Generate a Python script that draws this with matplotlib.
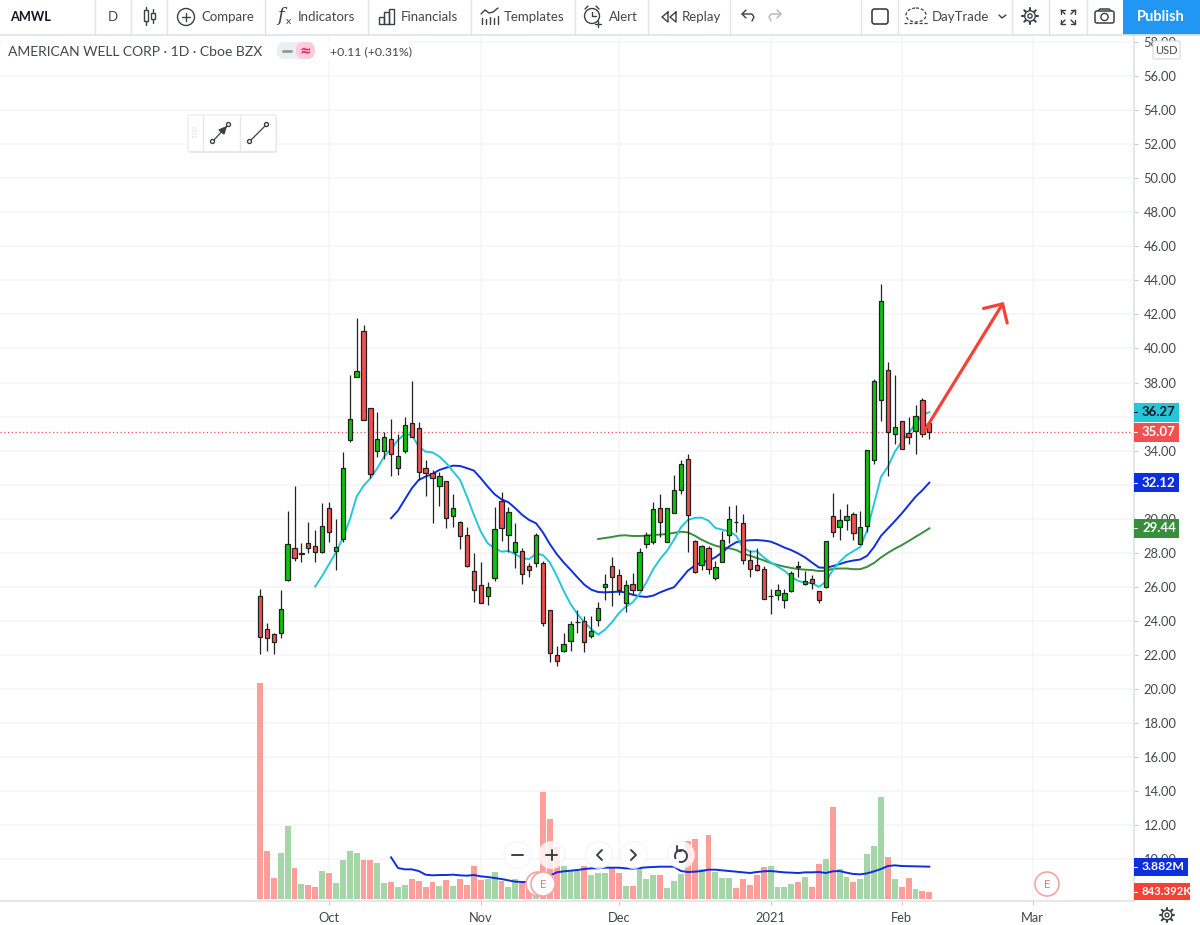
import matplotlib
matplotlib.use("Agg")
import matplotlib.pyplot as plt
from matplotlib.patches import Circle, FancyBboxPatch, Rectangle, Arc, Ellipse
import numpy as np

plt.rcParams["font.family"] = ["Lato", "DejaVu Sans"]

# daily bars, AMWL
opens = [25.47, 23.51, 23.24, 23.28, 26.41, 28.27, 27.95, 28.6, 28.42, 28.07,
         30.62, 28.09, 28.8, 34.63, 38.35, 41.01, 36.53, 34.0, 34.0, 34.67,
         33.0, 33.98, 35.63, 35.35, 32.97, 32.67, 31.95, 32.22, 30.15, 29.83,
         29.03, 26.96, 26.13, 25.47, 26.51, 31.07, 29.05, 28.07, 28.13, 27.21,
         27.43, 27.4, 24.66, 22.0, 22.26, 22.84, 23.92, 24.02, 23.1, 24.06,
         26.0, 27.25, 26.7, 25.07, 26.15, 25.84, 28.54, 28.62, 30.62, 28.66,
         30.32, 31.67, 33.51, 28.72, 27.3, 28.27, 26.5, 27.48, 29.05, 29.83,
         29.77, 27.58, 27.27, 27.05, 25.46, 25.54, 25.26, 25.77, 27.2, 26.16,
         26.46, 25.73, 26.0, 30.19, 29.53, 29.92, 30.31, 28.53, 29.59, 33.48,
         36.97, 38.71, 35.0, 35.77, 35.05, 35.17, 36.95, 35.6]
highs = [25.86, 23.86, 23.28, 25.82, 30.46, 31.93, 28.56, 29.83, 29.34, 30.91,
         31.01, 29.97, 33.9, 38.45, 41.77, 41.36, 36.53, 36.25, 35.12, 35.86,
         34.96, 36.0, 38.11, 35.7, 33.45, 32.87, 32.73, 32.22, 31.46, 29.89,
         29.5, 27.97, 27.48, 26.31, 30.68, 31.56, 30.71, 29.74, 28.27, 27.39,
         29.15, 27.54, 24.66, 22.51, 23.3, 23.98, 24.66, 24.3, 24.27, 25.09,
         26.76, 27.78, 27.05, 26.43, 26.82, 28.27, 29.2, 31.0, 31.46, 30.65,
         32.57, 33.47, 33.8, 28.77, 28.46, 28.38, 27.54, 29.28, 30.73, 30.81,
         30.28, 28.17, 28.27, 27.25, 25.85, 26.17, 25.85, 26.95, 27.53, 26.95,
         26.69, 25.73, 28.69, 31.54, 30.6, 30.84, 30.41, 30.45, 34.01, 38.2,
         43.76, 39.22, 38.43, 35.77, 35.95, 36.71, 37.12, 35.6]
lows = [22.04, 22.26, 22.04, 22.98, 26.35, 27.54, 27.48, 28.01, 27.48, 27.97,
        28.66, 27.0, 28.66, 34.49, 38.35, 35.8, 32.38, 33.65, 33.49, 32.54,
        32.57, 33.88, 34.83, 32.28, 31.36, 29.74, 30.75, 29.48, 29.54, 28.25,
        27.19, 25.14, 25.04, 24.94, 26.37, 28.72, 28.07, 27.09, 26.17, 26.57,
        27.19, 23.69, 21.61, 21.38, 22.16, 22.22, 23.3, 22.16, 22.98, 23.69,
        25.23, 24.9, 25.53, 24.51, 25.58, 25.84, 28.3, 28.54, 28.91, 28.66,
        30.32, 31.44, 28.07, 26.82, 27.01, 26.76, 26.41, 27.48, 28.58, 29.2,
        27.35, 26.56, 26.95, 25.28, 24.38, 25.23, 24.79, 25.68, 26.59, 26.1,
        25.85, 25.07, 25.96, 28.94, 28.75, 29.33, 28.75, 28.53, 29.23, 33.19,
        35.75, 32.52, 34.38, 34.07, 34.42, 33.78, 34.81, 34.66]
closes = [23.04, 23.0, 22.79, 24.69, 28.5, 27.68, 27.97, 28.31, 28.07, 29.6,
          29.21, 28.37, 33.0, 35.84, 38.7, 35.8, 32.61, 34.67, 34.79, 33.79,
          33.67, 35.51, 34.83, 32.77, 32.67, 32.38, 32.5, 30.03, 30.66, 28.97,
          27.23, 25.8, 25.08, 25.98, 29.38, 29.48, 30.38, 28.66, 26.74, 26.98,
          29.03, 23.86, 22.1, 21.67, 22.63, 23.8, 23.94, 22.78, 23.39, 24.74,
          26.15, 26.56, 25.84, 26.13, 25.82, 28.03, 29.03, 30.56, 29.83, 30.65,
          31.67, 33.24, 30.24, 26.9, 28.38, 27.05, 27.19, 28.75, 29.99, 29.81,
          27.58, 27.03, 26.99, 25.3, 25.48, 25.8, 25.67, 26.79, 27.18, 26.34,
          26.2, 25.22, 28.69, 29.23, 29.92, 30.19, 29.14, 29.49, 34.01, 38.08,
          42.78, 35.07, 35.4, 34.07, 34.81, 36.01, 34.95, 35.07]
# volume in millions
volumes = [25.9, 5.72, 2.52, 5.52, 8.8, 3.76, 1.84, 1.72, 1.48, 3.4,
           3.08, 1.96, 4.72, 5.72, 5.48, 4.72, 4.72, 4.36, 1.96, 2.08,
           1.48, 1.72, 2.44, 2.2, 1.4, 2.08, 1.6, 2.32, 1.6, 2.44,
           1.72, 4.0, 2.32, 2.44, 3.2, 2.2, 1.48, 2.44, 1.92, 1.72,
           1.2, 12.8, 9.6, 6.24, 4.0, 3.32, 3.4, 4.0, 2.84, 3.08,
           3.08, 3.72, 3.08, 1.6, 1.6, 3.68, 2.4, 2.84, 2.88, 1.36,
           2.2, 2.96, 7.0, 7.2, 3.64, 7.68, 3.2, 2.52, 2.52, 1.36,
           2.4, 1.72, 2.84, 3.88, 4.0, 1.48, 1.48, 1.84, 2.08, 2.64,
           1.48, 4.24, 4.8, 11.08, 3.64, 2.64, 2.08, 2.4, 5.36, 6.4,
           12.24, 5.04, 2.4, 1.48, 2.52, 1.24, 0.92, 0.843392]

# moving averages, each one ends on the last bar
ma_fast = [26.02, 26.64, 27.33, 28.03, 28.86, 29.93, 31.3, 31.93, 32.38, 32.97,
           33.65, 34.1, 34.63, 34.98, 34.92, 34.24, 33.94, 33.9, 33.65, 33.26,
           32.77, 32.28, 31.3, 30.23, 29.25, 28.56, 28.27, 28.07, 28.11, 27.92,
           27.69, 27.63, 27.95, 27.87, 27.44, 26.66, 25.78, 25.0, 24.41, 23.92,
           23.53, 23.2, 23.49, 23.92, 24.45, 24.84, 25.09, 25.58, 26.27, 27.05,
           27.64, 28.13, 28.77, 29.5, 29.93, 30.05, 30.07, 29.89, 29.46, 29.36,
           29.26, 29.01, 28.32, 28.07, 28.09, 27.74, 27.44, 27.2, 26.95, 26.58,
           26.35, 26.25, 26.22, 26.0, 26.3, 26.98, 27.47, 27.86, 28.1, 28.35,
           29.33, 30.9, 32.46, 33.05, 33.93, 34.52, 35.0, 35.6, 36.09, 36.27]
ma_mid = [30.03, 30.48, 31.14, 31.79, 32.28, 32.48, 32.63, 32.87, 33.0, 33.12,
          33.1, 32.97, 32.83, 32.38, 31.89, 31.44, 31.14, 30.97, 30.62, 30.23,
          29.93, 29.74, 29.2, 28.52, 27.93, 27.44, 27.01, 26.56, 26.13, 25.84,
          25.7, 25.68, 25.7, 25.72, 25.68, 25.54, 25.45, 25.41, 25.49, 25.68,
          25.84, 25.98, 26.46, 26.95, 27.25, 27.44, 27.54, 27.74, 28.03, 28.38,
          28.62, 28.7, 28.74, 28.75, 28.72, 28.66, 28.5, 28.31, 28.16, 27.96,
          27.73, 27.43, 27.14, 27.12, 27.22, 27.34, 27.47, 27.55, 27.61, 27.83,
          28.35, 29.0, 29.43, 29.86, 30.31, 30.8, 31.29, 31.68, 32.12]
ma_slow = [28.81, 28.87, 28.93, 29.01, 29.03, 28.99, 28.99, 29.01, 29.05, 29.07,
           29.11, 29.17, 29.24, 29.2, 29.01, 28.77, 28.58, 28.42, 28.32, 28.27,
           28.17, 27.97, 27.83, 27.7, 27.56, 27.4, 27.29, 27.19, 27.11, 27.05,
           27.01, 26.99, 26.93, 26.95, 27.06, 27.08, 27.08, 27.04, 27.04, 27.18,
           27.41, 27.73, 28.0, 28.24, 28.45, 28.69, 28.94, 29.18, 29.44]
ma_volume = [5.0, 3.72, 3.56, 3.56, 3.36, 2.92, 2.84, 2.88, 2.88, 2.92,
             2.84, 2.8, 2.88, 2.72, 2.64, 2.52, 2.4, 2.24, 2.08, 2.04,
             2.04, 2.08, 2.32, 2.8, 3.2, 3.32, 3.4, 3.48, 3.6, 3.68,
             3.68, 3.76, 3.76, 3.76, 3.68, 3.64, 3.72, 3.8, 3.84, 3.88,
             3.88, 3.88, 3.36, 3.24, 3.28, 3.36, 3.52, 3.52, 3.44, 3.36,
             3.28, 3.2, 3.12, 3.24, 3.32, 3.36, 3.28, 3.2, 3.16, 3.12,
             3.2, 3.2, 3.24, 3.12, 3.32, 3.36, 3.16, 3.0, 2.96, 3.08,
             3.32, 3.6, 3.96, 4.04, 3.96, 3.94, 3.92, 3.9, 3.882]

month_pos = [10, 32, 52, 74, 93, 112]
month_labels = ["Oct", "Nov", "Dec", "2021", "Feb", "Mar"]
price_ticks = np.arange(10, 60, 2)
hidden_ticks = [32, 36]  # sit fully under the value tags
arrow_from = (96.1, 35.04)
arrow_to = (107.8, 42.73)

RED = "#f25050"
GREEN = "#0cc40c"
VOL_RED = "#fc9f9a"
VOL_GREEN = "#a5d6a7"
CYAN = "#26c6da"
BLUE = "#0d2fdc"
DGREEN = "#388e3c"
GRID = "#f5f6fa"
TEXT = "#434651"
ICON = "#3c3f4a"

W, H = 1200, 925
fig = plt.figure(figsize=(W / 100, H / 100), dpi=100)

# pixel box of the chart pane
left, right, top, bottom = 0, 1134, 35, 901
ax = fig.add_axes([left / W, 1 - bottom / H, (right - left) / W, (bottom - top) / H])
px_per_price = 17.03
bar_step = 6.9
ax.set_ylim(56 - (bottom - 76) / px_per_price, 56 + (76 - top) / px_per_price)
ax.set_xlim((left - 260) / bar_step, (right - 260) / bar_step)

x = np.arange(len(closes))
o, h, l, c = map(np.array, (opens, highs, lows, closes))
up = c >= o

ax.grid(True, color=GRID, lw=1.2)
ax.set_axisbelow(True)
ax.set_yticks(price_ticks)
ax.set_yticklabels(["" if p in hidden_ticks else f"{p:.2f}" for p in price_ticks], fontsize=9.3, color=TEXT)
ax.set_xticks(month_pos)
ax.set_xticklabels(month_labels, fontsize=9.3, color=TEXT)
ax.tick_params(axis="y", length=3, width=0.8, color="#c8cad2", pad=4)
ax.tick_params(axis="x", length=3, width=0.8, color="#c8cad2", pad=5)
for s in ["top", "left"]:
    ax.spines[s].set_visible(False)
for s in ["right", "bottom"]:
    ax.spines[s].set_color("#e0e3eb")
    ax.spines[s].set_linewidth(1.2)

ax.axhline(closes[-1], color="#f25050", lw=0.9, ls=(0, (1, 2)), zorder=1)

ax.plot(np.arange(len(x) - len(ma_slow), len(x)), ma_slow, color=DGREEN, lw=1.4, zorder=2)
ax.plot(np.arange(len(x) - len(ma_mid), len(x)), ma_mid, color=BLUE, lw=1.4, zorder=2)
ax.plot(np.arange(len(x) - len(ma_fast), len(x)), ma_fast, color=CYAN, lw=1.4, zorder=2)

ax.vlines(x, l, h, color="#222222", lw=0.9, zorder=3)
ax.bar(x[up], (c - o)[up], bottom=o[up], width=0.62, color=GREEN, edgecolor="#222222", lw=0.9, zorder=4)
ax.bar(x[~up], (o - c)[~up], bottom=c[~up], width=0.62, color=RED, edgecolor="#222222", lw=0.9, zorder=4)

ax.annotate("", xy=arrow_to, xytext=arrow_from, zorder=6,
            arrowprops=dict(arrowstyle="->,head_length=1.0,head_width=1.0", mutation_scale=10,
                            color="#f44336", lw=2.3, shrinkA=0, shrinkB=0))

# volume pane shares the same box, own scale
vol = ax.twinx()
ax.yaxis.tick_right()
px_per_m = 8.33
vol.set_ylim(-(bottom - 899) / px_per_m, (899 - top) / px_per_m)
vol.set_yticks([])
for s in vol.spines.values():
    s.set_visible(False)
vol_colors = [VOL_GREEN if u else VOL_RED for u in up]
vol.bar(x, volumes, width=0.86, color=vol_colors, lw=0)
vol.plot(np.arange(len(x) - len(ma_volume), len(x)), ma_volume, color=BLUE, lw=1.4)

# overlay in screen pixels for toolbar and tags
ui = fig.add_axes([0, 0, 1, 1], zorder=10)
ui.set_xlim(0, W)
ui.set_ylim(H, 0)
ui.axis("off")


def y_px(axis, value):
    return H - axis.transData.transform((0, value))[1]


def line(xs, ys, color=ICON, lw=1.0, **kw):
    ui.plot(xs, ys, color=color, lw=lw, solid_capstyle="round", **kw)


def label(px, py, s, size=9.5, color=TEXT, ha="left", **kw):
    ui.text(px, py, s, fontsize=size, color=color, ha=ha, va="center", **kw)


def circle(cx, cy, r, fc="none", ec=ICON, lw=1.0, z=3, alpha=None):
    ui.add_patch(Ellipse((cx, cy), 2 * r, 2 * r, fc=fc, ec=ec, lw=lw, zorder=z, alpha=alpha))


def tag(axis, value, text, bg, fg, width, height=19, size=9.5):
    py = y_px(axis, value)
    ui.add_patch(Rectangle((right, py - height / 2), width, height, fc=bg, ec="none", zorder=5))
    line([right, right + 3], [py, py], color=fg, lw=0.8, zorder=6)
    ui.text(right + 8, py, text, fontsize=size, color=fg, va="center", fontweight="bold", zorder=6)


def gear(cx, cy, r):
    angles = np.linspace(0, 2 * np.pi, 8, endpoint=False)
    for a in angles:
        line([cx + r * 0.75 * np.cos(a), cx + r * 1.15 * np.cos(a)],
             [cy + r * 0.75 * np.sin(a), cy + r * 1.15 * np.sin(a)], lw=1.5)
    circle(cx, cy, r * 0.75, fc="white")
    circle(cx, cy, r * 0.3, fc="white")


# top toolbar
ui.add_patch(Rectangle((0, 0), W, 34.5, fc="white", ec="none", zorder=0))
line([0, W], [34.5, 34.5], color="#e0e3eb", lw=1.2)
for sx in [94.5, 130.5, 167, 265, 368, 471, 575, 648, 730, 861, 898, 1012, 1049, 1087]:
    line([sx, sx], [0, 34.5], color="#e0e3eb", lw=1.0)
ui.add_patch(Rectangle((1123, 0), 77, 34.5, fc="#2196f3", ec="none", zorder=1))

label(10, 17, "AMWL", size=9.2, color="#131722", fontweight="bold")
label(113, 17, "D", ha="center")
label(201, 17, "Compare")
label(298, 17, "Indicators")
label(401, 17, "Financials")
label(504, 17, "Templates")
label(609, 17, "Alert")
label(682, 17, "Replay")
label(932, 17, "DayTrade")
label(1161, 17, "Publish", size=10.5, color="white", ha="center", fontweight="bold")

# candle icon
line([146, 146], [7, 25])
line([153, 153], [9, 23])
ui.add_patch(Rectangle((144, 10), 4, 11, fc="white", ec=ICON, lw=1, zorder=3))
ui.add_patch(Rectangle((151, 13), 4, 6, fc="white", ec=ICON, lw=1, zorder=3))
# compare
circle(186, 17, 8.5)
line([182, 190], [17, 17])
line([186, 186], [13, 21])
# fx
ui.text(280, 16, "f", fontsize=13, style="italic", color=ICON, ha="center", va="center", family="DejaVu Serif")
ui.text(288, 22, "x", fontsize=7.5, color=ICON, ha="center", va="center")
# financials
line([379, 379, 384, 384, 379], [24, 17, 17, 24, 24])
line([384, 384, 389, 389, 384], [24, 12, 12, 24, 24])
line([389, 389, 394, 394, 389], [24, 9, 9, 24, 24])
# templates
line([481, 485, 489, 493, 498], [14, 10, 13, 12, 8])
for tx, ty in zip([482, 486, 490, 494, 498], [18, 19, 17, 18, 16]):
    line([tx, tx], [ty, 24])
# alert
circle(592, 16, 7.5)
line([592, 592, 596], [12, 16, 16])
line([585, 588], [9, 6])
line([599, 596], [9, 6])
line([598, 598], [21, 27])
line([595, 601], [24, 24])
# replay
line([668, 662, 668, 668], [12, 17, 22, 12])
line([676, 670, 676, 676], [12, 17, 22, 12])
# undo, redo
line([746, 742, 746], [10, 14, 18])
line([742, 752, 754, 752], [14, 14, 17, 21])
line([777, 781, 777], [10, 14, 18], color="#b2b5be")
line([781, 771, 769, 771], [14, 14, 17, 21], color="#b2b5be")
# square
ui.add_patch(FancyBboxPatch((872, 9), 16, 15, boxstyle="round,pad=0,rounding_size=2.5", fc="white", ec=ICON, lw=1.2, zorder=3))
# cloud
ui.add_patch(Ellipse((916, 15), 20, 14, fc="none", ec=ICON, lw=0.9, ls=(0, (2.5, 1.5)), zorder=3))
line([904, 928], [23, 23], lw=0.9, ls=(0, (2.5, 1.5)))
line([999, 1002, 1006], [15, 18, 15])
gear(1030, 16, 7)
# fullscreen
for cx, cy, dx, dy in [(1061, 10, 1, 1), (1075, 10, -1, 1), (1061, 24, 1, -1), (1075, 24, -1, -1)]:
    line([cx, cx + 4 * dx], [cy, cy])
    line([cx, cx], [cy, cy + 4 * dy])
    line([cx, cx + 4 * dx], [cy, cy + 4 * dy])
# camera
ui.add_patch(FancyBboxPatch((1095, 11), 19, 12, boxstyle="round,pad=0,rounding_size=2", fc="white", ec=ICON, lw=1.1, zorder=3))
line([1098, 1100, 1109, 1111], [11, 9, 9, 11], lw=1.1)
circle(1104.5, 17, 3.6)

# legend row
ui.add_patch(Rectangle((2, 41), 408, 20, fc="white", ec="none", alpha=0.8, zorder=1))
label(8, 51.5, "AMERICAN WELL CORP · 1D · Cboe BZX", size=10)
ui.add_patch(FancyBboxPatch((277, 42), 38, 17, boxstyle="round,pad=0,rounding_size=8", fc="#eceef2", ec="none", zorder=2))
ui.add_patch(FancyBboxPatch((296, 42), 19, 17, boxstyle="round,pad=0,rounding_size=8", fc="#fccbdc", ec="none", zorder=2))
line([283, 291], [50.5, 50.5], color="#9598a1", lw=2)
ui.text(305, 50, "≈", fontsize=10, color="#e91e63", ha="center", va="center", fontweight="bold", zorder=4, family="DejaVu Sans")
label(330, 52, "+0.11 (+0.31%)", size=8.8)

# drawing toolbar
ui.add_patch(FancyBboxPatch((188, 116), 89, 37, boxstyle="round,pad=0,rounding_size=2", fc="#d9dbe2", ec="none", alpha=0.6, zorder=1))
ui.add_patch(FancyBboxPatch((188, 115), 88, 36.5, boxstyle="round,pad=0,rounding_size=2", fc="white", ec="#e6e8ee", lw=0.8, zorder=2))
for sx in [202.5, 239.5]:
    line([sx, sx], [115, 151.5], color="#e6e8ee", zorder=3)
for dx in [193, 196]:
    for dy in [128, 131, 134, 137]:
        ui.add_patch(Circle((dx, dy), 0.6, fc="#c0c3cb", ec="none", zorder=3))
line([213, 228], [141, 125], lw=0.9, zorder=3)
circle(212.5, 141.5, 2, fc="white", z=4)
circle(228.5, 124.5, 2, fc="white", z=4)
ui.fill([226, 219, 224], [127, 130, 134], color=ICON, zorder=4)
line([250, 266], [141, 125], lw=0.9, zorder=3)
circle(249.5, 141.5, 2, fc="white", z=4)
circle(266.5, 124.5, 2, fc="white", z=4)

# usd box
ui.add_patch(FancyBboxPatch((1153, 41), 27, 18, boxstyle="round,pad=0,rounding_size=2", fc="white", ec="#d6d8e0", lw=0.8, zorder=4))
ui.text(1166.5, 50, "USD", fontsize=8, color=TEXT, ha="center", va="center", zorder=5)

# last value tags
tag(ax, ma_fast[-1], f"{ma_fast[-1]:.2f}", CYAN, "#131722", 45)
tag(ax, closes[-1], f"{closes[-1]:.2f}", "#f25050", "white", 45)
tag(ax, ma_mid[-1], f"{ma_mid[-1]:.2f}", BLUE, "white", 45)
tag(ax, ma_slow[-1], f"{ma_slow[-1]:.2f}", DGREEN, "white", 45)
tag(vol, ma_volume[-1], f"{ma_volume[-1]:.3f}M", BLUE, "white", 54, 18, 8.8)
tag(vol, volumes[-1], f"{volumes[-1] * 1000:.3f}K", "#f44336", "white", 56, 17, 8.2)

# earnings markers
circle(538, 884, 12, fc="white", ec="#f7a4a4", lw=1.2, z=4)
for ex in [543, 1047]:
    circle(ex, 884, 12, fc="white", ec="#f7a4a4", lw=1.2, z=4)
    ui.text(ex, 884.5, "E", fontsize=8, color="#e57373", ha="center", va="center", zorder=5)

# zoom and scroll buttons
for bx in [517.5, 551.5, 599, 633.5, 681]:
    circle(bx, 855, 13.5, fc="white", ec="#eeeef2", lw=0.6, z=3, alpha=0.8)
line([512, 523], [855, 855], lw=1.4, zorder=5)
line([546, 557], [855, 855], lw=1.4, zorder=5)
line([551.5, 551.5], [850, 860], lw=1.4, zorder=5)
line([602, 597, 602], [850, 855, 860], lw=1.4, zorder=5)
line([631, 636, 631], [850, 855, 860], lw=1.4, zorder=5)
ui.add_patch(Arc((681, 856), 12, 12, theta1=-210, theta2=110, ec=ICON, lw=1.4, zorder=5))
line([677, 677, 681], [846, 851, 851], lw=1.4, zorder=5)

# settings gear bottom right
gear(1167, 915, 6.5)

fig.savefig("out.png", dpi=100, facecolor="white")
